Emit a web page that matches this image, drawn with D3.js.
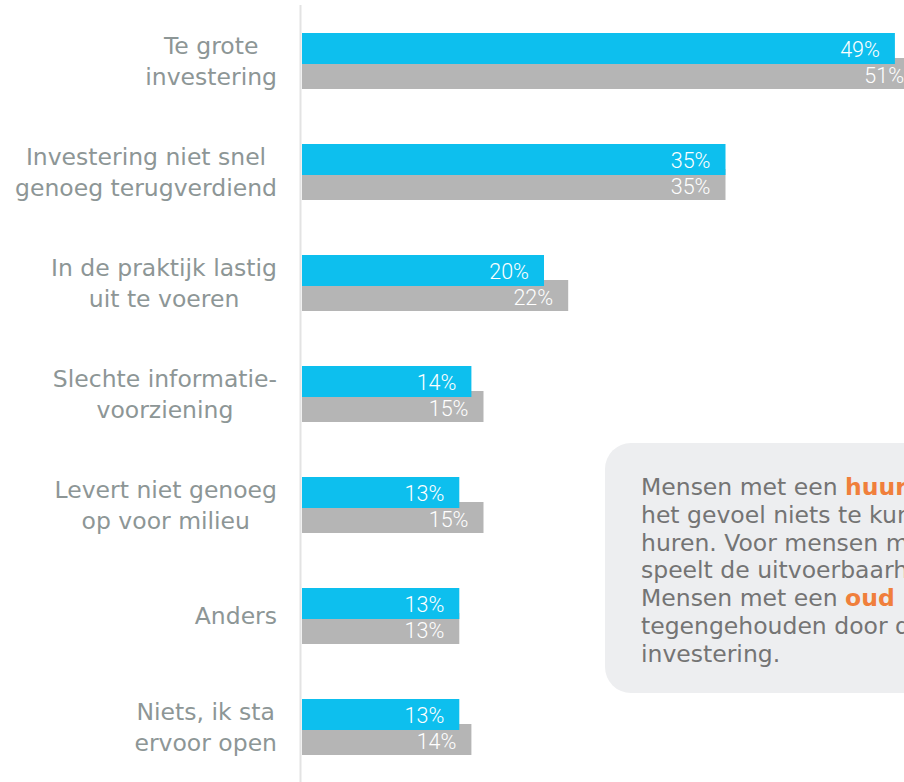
<!DOCTYPE html>
<meta charset="utf-8">
<script src="https://d3js.org/d3.v7.min.js"></script>
<style>
  html, body { margin: 0; padding: 0; background: #fff; }
  svg { display: block; }
</style>
<body>
<div id="my_dataviz"></div>
<script>

// categories (two-line labels)
const categories = [
  ["Te grote", "investering"],
  ["Investering niet snel", "genoeg terugverdiend"],
  ["In de praktijk lastig", "uit te voeren"],
  ["Slechte informatie-", "voorziening"],
  ["Levert niet genoeg", "op voor milieu"],
  ["Anders"],
  ["Niets, ik sta", "ervoor open"]
];
const blueValues = [49, 35, 20, 14, 13, 13, 13];
const greyValues = [51, 35, 22, 15, 15, 13, 14];

// callout text, lines with highlighted parts
const noteLines = [
  [["Mensen met een ", false], ["huurwoning", true], [" hebben", false]],
  [["het gevoel niets te kunnen doen omdat zij", false]],
  [["huren. Voor mensen met een nieuw huis", false]],
  [["speelt de uitvoerbaarheid een grotere rol.", false]],
  [["Mensen met een ", false], ["oud huis", true], [" worden", false]],
  [["tegengehouden door de hoogte van de", false]],
  [["investering.", false]]
];

const width = 904, height = 782;
const blue = "#0dbfee", grey = "#b5b5b5";
const labelColor = "#8d9696";

var svg = d3.select("#my_dataviz")
  .append("svg")
    .attr("width", width)
    .attr("height", height);

var keys = categories.map(function(d) { return d.join(" "); });

// scales
var x = d3.scaleLinear()
  .domain([0, 100])
  .range([302, 302 + 1210]);

var y = d3.scaleBand()
  .domain(keys)
  .range([5, 782])
  .padding(0);

// axis line
svg.append("line")
  .attr("x1", 300.5).attr("x2", 300.5)
  .attr("y1", 5).attr("y2", height)
  .attr("stroke", "#e3e3e3")
  .attr("stroke-width", 2);

var groups = svg.selectAll("g.cat")
  .data(keys)
  .enter()
  .append("g")
    .attr("class", "cat")
    .attr("transform", function(d) { return "translate(0," + y(d) + ")"; });

// grey bars (behind)
groups.append("rect")
  .attr("x", x(0))
  .attr("y", 53)
  .attr("width", function(d, i) { return x(greyValues[i]) - x(0); })
  .attr("height", 31)
  .attr("fill", grey);

// blue bars
groups.append("rect")
  .attr("x", x(0))
  .attr("y", 28)
  .attr("width", function(d, i) { return x(blueValues[i]) - x(0); })
  .attr("height", 31)
  .attr("fill", blue);

// value labels
var valueFont = "Roboto, 'DejaVu Sans Condensed', sans-serif";
groups.append("text")
  .attr("x", function(d, i) { return x(blueValues[i]) - 15; })
  .attr("y", 52)
  .attr("text-anchor", "end")
  .attr("fill", "#fff")
  .style("font-family", valueFont)
  .style("font-weight", 300)
  .style("font-size", "21.5px")
  .text(function(d, i) { return blueValues[i] + "%"; });

groups.append("text")
  .attr("x", function(d, i) { return x(greyValues[i]) - 15; })
  .attr("y", 78)
  .attr("text-anchor", "end")
  .attr("fill", "#fff")
  .style("font-family", valueFont)
  .style("font-weight", 300)
  .style("font-size", "21.5px")
  .text(function(d, i) { return greyValues[i] + "%"; });

// category labels: centred lines, block right-aligned at x=277
groups.append("text")
  .attr("text-anchor", "middle")
  .attr("fill", labelColor)
  .style("font-family", "'DejaVu Sans', sans-serif")
  .style("font-size", "23.5px")
  .each(function(d, i) {
    var lines = categories[i];
    var t = d3.select(this);
    var start = 56 - (lines.length - 1) * 31 / 2 + 8;
    var spans = lines.map(function(l, j) {
      return t.append("tspan")
        .attr("y", start + j * 31)
        .text(l);
    });
    var maxW = d3.max(spans, function(s) { return s.node().getComputedTextLength(); });
    spans.forEach(function(s) { s.attr("x", 277 - maxW / 2); });
  });

// callout box
svg.append("rect")
  .attr("x", 605)
  .attr("y", 443)
  .attr("width", 360)
  .attr("height", 250)
  .attr("rx", 26)
  .attr("fill", "#edeef0");

var note = svg.append("text")
  .style("font-family", "'DejaVu Sans', sans-serif")
  .style("font-size", "23.5px")
  .attr("fill", "#747474");

noteLines.forEach(function(line, j) {
  var row = note.append("tspan")
    .attr("x", 641)
    .attr("y", 495 + j * 27.8);
  line.forEach(function(part, k) {
    var s = k === 0 ? row : note.append("tspan");
    s.text(part[0]);
    if (part[1]) s.attr("fill", "#f07f3c").style("font-weight", "bold");
  });
});

</script>
</body>
